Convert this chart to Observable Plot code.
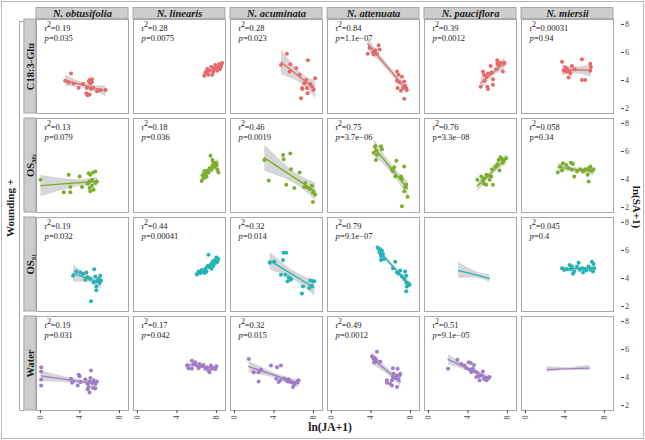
<!DOCTYPE html>
<html><head><meta charset="utf-8">
<script src="https://cdn.jsdelivr.net/npm/d3@7"></script>
<script src="https://cdn.jsdelivr.net/npm/@observablehq/plot@0.6"></script>
<style>html,body{margin:0;padding:0;background:#fff} svg text{font-family:'Liberation Serif','Times New Roman',serif}</style>
</head><body><div id="chart"></div>
<script>
const species = ["N. obtusifolia", "N. linearis", "N. acuminata", "N. attenuata", "N. pauciflora", "N. miersii"];
const treatments = ["C18:3-Glu", "OS_Ms", "OS_Sl", "Water"];
const seriesColors = ["#E6686A", "#7CAE2A", "#22B3B6", "#A07CC6"];
const xTicks = [0, 4, 8];
const yTicks = [2, 4, 6, 8];

// C18:3-Glu  [ln(JA+1), ln(SA+1)]
const glu_obtusifolia = [[3.1,4.5],[2.5,3.98],[2.86,3.87],[3.37,3.79],[3.87,3.47],[4.31,3.75],[4.71,3.47],[4.98,4.04],[5.05,3.79],[5.22,4.09],[5.12,3.4],[5.32,3.47],[4.65,3.09],[4.78,2.95],[4.98,3.0],[5.72,3.23],[6.06,3.33],[6.6,3.33],[5.22,3.87],[4.9,3.94]];
const glu_linearis = [[6.87,4.55],[7.07,4.83],[7.27,4.69],[7.47,4.97],[7.68,4.62],[7.88,5.11],[7.98,4.83],[8.18,4.97],[8.28,5.18],[8.48,5.04],[7.17,4.41],[6.77,4.34],[7.58,4.41],[8.08,4.69],[8.38,4.83],[8.59,5.25],[6.97,4.62],[7.78,4.9]];
const glu_acuminata = [[5.32,5.91],[4.71,5.11],[5.66,5.16],[5.59,4.64],[6.26,4.88],[7.44,5.44],[6.6,4.41],[7.27,4.03],[7.07,3.79],[6.84,3.47],[7.34,3.47],[7.68,3.75],[7.85,3.56],[8.01,3.33],[8.18,4.17],[7.41,3.09],[6.74,2.74],[6.9,3.4]];
const glu_attenuata = [[3.67,5.91],[3.87,6.33],[4.21,5.98],[4.44,6.15],[4.78,6.52],[4.88,6.22],[4.61,5.91],[4.28,5.86],[6.64,4.64],[6.8,4.41],[6.64,3.98],[6.9,3.87],[7.14,4.27],[7.37,3.93],[7.47,3.63],[7.58,3.47],[7.24,3.47],[7.04,3.28],[6.7,3.47],[7.37,2.7],[7.64,3.33]];
const glu_pauciflora = [[5.52,4.64],[5.62,4.41],[5.86,4.27],[6.03,4.5],[6.36,4.57],[6.3,5.04],[6.53,4.1],[6.87,4.81],[6.97,5.2],[7.1,5.11],[7.3,5.27],[7.64,5.2],[7.54,4.64],[6.97,5.44],[7.7,5.27],[5.29,3.56],[5.96,3.56],[6.03,3.4],[6.53,3.7],[5.69,3.98]];
const glu_miersii = [[3.7,5.34],[4.04,4.92],[4.21,4.81],[4.14,4.64],[4.48,4.64],[4.71,5.04],[4.55,4.5],[4.38,4.22],[5.72,5.51],[6.57,5.2],[6.63,4.97],[6.57,4.69],[5.72,4.03],[6.06,4.03],[5.0,4.81],[3.9,4.7]];

// OS Ms
const ms_obtusifolia = [[0,3.98],[2.86,4.34],[3.97,4.22],[2.36,3.09],[3.03,3.09],[3.03,3.47],[4.21,3.47],[4.88,4.45],[5.05,4.34],[5.32,4.5],[5.56,4.57],[5.22,3.98],[4.78,3.7],[4.98,3.4],[5.22,3.56],[5.39,3.28],[5.05,3.16],[5.56,3.75],[5.72,3.86],[4.98,3.86]];
const ms_linearis = [[6.5,3.9],[6.7,4.1],[6.6,4.3],[6.9,4.4],[7.0,4.6],[7.2,4.5],[7.3,4.8],[7.5,4.7],[7.6,5.0],[7.8,4.9],[7.9,5.2],[8.0,5.0],[8.1,4.7],[8.2,4.5],[7.4,5.7],[7.6,5.4],[7.0,4.2],[7.7,5.2],[6.8,4.6]];
const ms_acuminata = [[3.03,5.39],[3.47,3.93],[4.92,5.74],[4.98,5.44],[5.66,5.86],[5.72,4.74],[6.6,4.5],[5.25,3.63],[6.06,3.4],[7.17,3.75],[7.34,3.47],[7.61,3.33],[7.85,3.56],[7.95,3.09],[8.18,2.93],[7.95,2.39],[7.07,3.47]];
const ms_attenuata = [[4.44,6.38],[5.02,6.38],[5.12,6.15],[4.55,6.05],[4.28,5.91],[4.61,5.74],[4.51,5.39],[6.13,4.74],[6.36,4.88],[6.57,5.34],[6.46,4.22],[7.04,4.22],[7.14,4.03],[7.37,4.92],[7.58,3.63],[7.47,3.47],[7.37,3.16],[7.71,2.77],[7.14,2.1],[6.23,4.6]];
const ms_pauciflora = [[4.95,3.98],[5.35,4.22],[5.52,3.93],[5.69,4.1],[5.86,4.34],[6.03,4.27],[6.2,3.98],[6.36,4.22],[5.62,3.7],[5.86,3.63],[6.53,3.63],[6.43,4.74],[6.77,4.92],[6.97,5.11],[7.1,5.39],[7.3,5.58],[7.44,5.44],[7.64,5.39],[7.88,5.51],[7.2,4.64],[7.54,5.2]];
const ms_miersii = [[3.27,4.5],[3.54,4.92],[3.8,5.16],[3.7,4.64],[4.14,5.04],[4.38,4.81],[4.61,5.2],[4.81,5.11],[4.71,4.69],[4.95,4.22],[5.22,4.57],[5.56,4.74],[5.83,4.57],[6.06,4.74],[6.4,4.81],[6.57,4.92],[6.63,4.64],[6.9,4.74],[6.3,4.34],[6.4,3.86]];

// OS Sl
const sl_obtusifolia = [[3.3,4.2],[3.64,4.5],[4.04,4.43],[4.31,4.34],[4.65,4.43],[4.78,4.1],[5.05,3.96],[5.45,4.67],[5.56,4.15],[5.72,3.8],[5.89,3.96],[6.06,4.2],[6.13,3.86],[5.99,3.68],[5.66,3.44],[5.66,3.16],[5.12,2.38],[4.55,3.91],[5.39,3.72]];
const sl_linearis = [[6.0,4.3],[6.2,4.5],[6.4,4.4],[6.5,4.6],[6.7,4.5],[6.9,4.7],[7.0,4.5],[7.1,4.9],[7.3,4.8],[7.4,5.0],[7.5,4.7],[7.6,5.2],[7.7,4.9],[7.8,5.3],[7.9,5.1],[8.0,5.5],[8.1,5.2],[8.2,5.4],[7.2,5.7],[6.8,4.4]];
const sl_acuminata = [[3.57,5.13],[4.04,5.2],[4.98,5.84],[5.25,5.84],[4.92,5.32],[4.71,4.27],[5.15,4.27],[5.49,4.1],[5.66,3.91],[5.38,3.8],[5.76,3.96],[6.94,3.44],[6.84,2.93],[7.68,3.86],[7.95,3.8],[8.08,3.8],[7.85,3.49],[7.61,3.33]];
const sl_attenuata = [[4.68,6.22],[4.95,6.08],[5.12,5.98],[4.88,5.84],[5.02,5.6],[5.22,5.74],[5.02,5.32],[5.28,5.37],[6.46,5.2],[6.23,4.74],[6.64,4.43],[6.8,4.34],[6.97,4.57],[7.14,4.15],[7.47,4.5],[7.58,4.2],[7.37,3.96],[7.58,3.72],[7.81,3.63],[7.91,3.56],[7.64,3.44],[7.58,3.09]];
const sl_pauciflora_fit = [[3.06,4.57,4.0,5.14],[3.8,4.44,4.03,4.85],[4.5,4.31,4.03,4.59],[5.3,4.17,3.97,4.37],[6.2,4.0,3.71,4.29]]; // [x, fit, lower, upper]
const sl_miersii = [[3.7,4.74],[3.94,4.62],[4.21,4.67],[4.48,4.97],[4.61,4.67],[4.81,4.34],[4.95,4.5],[5.22,4.85],[5.39,5.13],[5.49,4.62],[5.72,4.74],[5.83,4.43],[5.96,4.67],[6.16,4.57],[6.4,4.85],[6.57,4.62],[6.73,5.2],[6.9,5.04],[6.97,4.74],[6.84,4.5],[4.71,4.85]];

// Water
const w_obtusifolia = [[0.07,4.74],[0.07,4.43],[0.07,3.86],[0.07,3.44],[3.1,3.91],[3.2,3.63],[3.3,3.72],[3.87,4.2],[3.97,4.1],[4.04,3.68],[3.77,3.44],[4.55,3.86],[4.78,3.56],[4.98,3.72],[5.12,4.5],[5.05,3.96],[5.22,3.63],[5.39,3.8],[5.56,3.56],[5.72,3.72],[5.32,3.26],[5.56,3.21],[4.98,2.93],[4.88,3.33],[4.78,3.16]];
const w_linearis = [[5.02,4.85],[5.18,4.67],[5.52,5.2],[5.69,4.97],[5.86,5.09],[6.03,4.85],[6.3,4.97],[6.53,4.81],[6.7,4.9],[6.87,4.62],[7.04,4.74],[7.2,4.5],[7.3,4.38],[7.54,4.62],[7.71,4.67],[7.44,4.85],[5.52,4.62],[6.2,4.67],[7.9,4.6],[8.0,4.8]];
const w_acuminata = [[1.45,5.32],[1.95,4.38],[2.45,4.38],[2.45,3.72],[2.69,4.57],[3.7,4.85],[4.31,4.74],[4.71,4.85],[4.24,3.91],[4.48,3.68],[4.65,3.8],[5.05,3.91],[5.25,3.8],[5.49,3.86],[5.66,3.68],[5.93,3.63],[6.06,3.49],[6.26,3.63],[6.4,3.72],[6.5,3.8],[5.93,3.33],[5.39,3.72]];
const w_attenuata = [[4.11,5.51],[4.28,5.32],[4.44,5.37],[4.61,5.84],[4.55,5.2],[4.95,5.13],[4.34,5.09],[6.23,4.67],[6.7,4.62],[6.3,4.27],[6.64,4.15],[6.9,4.15],[6.8,3.86],[6.46,3.96],[6.13,3.8],[5.62,3.8],[5.62,3.63],[5.96,3.56],[6.13,3.44],[6.64,3.33],[6.23,4.03],[6.97,4.27]];
const w_pauciflora = [[1.99,4.62],[2.93,5.27],[3.33,4.97],[3.67,4.85],[4.07,5.09],[4.28,5.04],[4.17,4.57],[4.51,4.62],[4.61,4.9],[4.75,4.43],[4.95,4.34],[5.08,4.1],[5.35,4.15],[5.52,4.43],[5.62,3.91],[5.76,3.96],[5.86,3.8],[6.03,3.96],[6.2,4.03],[4.85,4.03],[5.18,3.8],[4.34,4.38],[3.84,4.67]];
const w_miersii_fit = [[2.19,4.57,4.37,4.77],[3.3,4.6,4.47,4.73],[4.35,4.62,4.54,4.70],[5.4,4.65,4.52,4.78],[6.5,4.67,4.47,4.87]]; // [x, fit, lower, upper]

// statistics printed in each panel (null = none)
const r2_glu = ["0.19","0.28","0.28","0.84","0.39","0.00031"];
const p_glu  = ["0.035","0.0075","0.023","1.1e\u221207","0.0012","0.94"];
const r2_ms  = ["0.13","0.18","0.46","0.75","0.76","0.058"];
const p_ms   = ["0.079","0.036","0.0019","3.7e\u221206","3.3e\u221208","0.34"];
const r2_sl  = ["0.19","0.44","0.32","0.79",null,"0.045"];
const p_sl   = ["0.032","0.00041","0.014","9.1e\u221207",null,"0.4"];
const r2_w   = ["0.19","0.17","0.32","0.49","0.51",null];
const p_w    = ["0.031","0.042","0.015","0.0012","9.1e\u221205",null];

// ---- assemble tables ----
const panelPoints = [
  [glu_obtusifolia, glu_linearis, glu_acuminata, glu_attenuata, glu_pauciflora, glu_miersii],
  [ms_obtusifolia, ms_linearis, ms_acuminata, ms_attenuata, ms_pauciflora, ms_miersii],
  [sl_obtusifolia, sl_linearis, sl_acuminata, sl_attenuata, null, sl_miersii],
  [w_obtusifolia, w_linearis, w_acuminata, w_attenuata, w_pauciflora, null]
];
const panelFits = [[2, 4, sl_pauciflora_fit], [3, 5, w_miersii_fit]];
const r2s = [r2_glu, r2_ms, r2_sl, r2_w];
const ps = [p_glu, p_ms, p_sl, p_w];

const points = [];
panelPoints.forEach((row, i) => row.forEach((arr, j) => {
  if (arr) arr.forEach(([x, y]) => points.push({t: treatments[i], s: species[j], x, y}));
}));
const fits = [];
panelFits.forEach(([i, j, arr]) => arr.forEach(([x, y, lo, hi]) => fits.push({t: treatments[i], s: species[j], x, y, lo, hi})));
const stats = [];
r2s.forEach((row, i) => row.forEach((r, j) => {
  if (r != null) stats.push({t: treatments[i], s: species[j], r2: r, p: ps[i][j], upright: i === 1 && j >= 4});
}));

const xDom = [-0.4, 8.92];
const yDom = [1.65, 8.35];
const stripH = 0.82;   // in y units
const stripW = 1.22;   // in x units
const txt = "#1a1a1a";
const serif = "'Liberation Serif', 'Times New Roman', serif";
const statOpts = {fx: "s", fy: "t", frameAnchor: "top-left", lineAnchor: "middle", textAnchor: "start", fontSize: 8.5, fill: txt, fontFamily: serif};

const chart = Plot.plot({
  width: 645, height: 440,
  marginLeft: 36, marginRight: 32, marginTop: 18, marginBottom: 29,
  style: {fontFamily: serif, fontSize: "9px", background: "#fff", color: txt},
  fx: {domain: species, paddingInner: 0.052, paddingOuter: 0, axis: null, label: null},
  fy: {domain: treatments, paddingInner: 0.05, paddingOuter: 0, axis: null, label: null},
  x: {domain: xDom, label: null},
  y: {domain: yDom, label: null},
  color: {domain: treatments, range: seriesColors},
  marks: [
    Plot.frame({stroke: "#a8a8a8", strokeWidth: 1}),
    // column strips
    Plot.rect(species, {fx: d => d, fy: () => treatments[0], x1: () => xDom[0], x2: () => xDom[1], y1: () => yDom[1] + 0.03, y2: () => yDom[1] + stripH, fill: "#cdcdcd", stroke: "#a8a8a8"}),
    Plot.text(species, {fx: d => d, fy: () => treatments[0], x: () => (xDom[0] + xDom[1]) / 2, y: () => yDom[1] + stripH / 2 + 0.02, text: d => d, fontWeight: "bold", fontStyle: "italic", fontSize: 10.5, fill: txt, fontFamily: serif}),
    // row strips
    Plot.rect(treatments, {fy: d => d, fx: () => species[0], x1: () => xDom[0] - stripW, x2: () => xDom[0] - 0.03, y1: () => yDom[0], y2: () => yDom[1], fill: "#cdcdcd", stroke: "#a8a8a8"}),
    Plot.text(treatments, {fy: d => d, fx: () => species[0], x: () => xDom[0] - stripW / 2, y: () => (yDom[0] + yDom[1]) / 2, text: d => d, rotate: -90, fontWeight: "bold", fontSize: 10.5, fill: txt, fontFamily: serif}),
    // regression bands for panels with only a fit
    Plot.areaY(fits, {fx: "s", fy: "t", x: "x", y1: "lo", y2: "hi", fill: "#999", fillOpacity: 0.4, curve: "natural"}),
    Plot.line(fits, {fx: "s", fy: "t", x: "x", y: "y", stroke: "t", strokeWidth: 1.3}),
    // points and regressions
    Plot.linearRegressionY(points, {fx: "s", fy: "t", x: "x", y: "y", stroke: "t", fill: "#999", fillOpacity: 0.4, strokeWidth: 1.3, ci: 0.95}),
    Plot.dot(points, {fx: "s", fy: "t", x: "x", y: "y", fill: "t", r: 2}),
    // stats text
    Plot.text(stats, {...statOpts, dx: 8, dy: 8.5, text: () => "r"}),
    Plot.text(stats, {...statOpts, dx: 10.6, dy: 5.3, text: () => "2", fontSize: 8}),
    Plot.text(stats, {...statOpts, dx: 14.3, dy: 8.5, text: d => "=" + d.r2}),
    Plot.text(stats.filter(d => !d.upright), {...statOpts, dx: 8, dy: 18.5, text: () => "p", fontStyle: "italic"}),
    Plot.text(stats.filter(d => d.upright), {...statOpts, dx: 8, dy: 18.5, text: () => "p"}),
    Plot.text(stats, {...statOpts, dx: 12.4, dy: 18.5, text: d => "=" + d.p}),
    // axes
    Plot.axisX({anchor: "bottom", ticks: xTicks, tickFormat: d => String(d), tickSize: 3, tickPadding: 2, tickRotate: -90, fontSize: 8, stroke: "#444", fill: "#444", label: null}),
    Plot.axisY({anchor: "right", ticks: yTicks, tickFormat: d => String(d), tickSize: 3, tickPadding: 1.5, dx: 7, fontSize: 8, stroke: "#444", fill: "#444", label: null})
  ]
});

document.getElementById("chart").appendChild(chart);

// subscripts in row labels
d3.select(chart).selectAll("text").each(function () {
  const t = this.textContent;
  if (t.startsWith("OS_")) {
    const sub = t.slice(3);
    const el = d3.select(this);
    el.text(null);
    el.append("tspan").text("OS");
    el.append("tspan").attr("font-size", 7).attr("dy", "0.35em").attr("font-style", "italic").text(sub);
  }
});

// outer labels and decorations
const svg = d3.select(chart);
svg.append("rect").attr("x", 1.5).attr("y", 1.5).attr("width", 642).attr("height", 437)
  .attr("fill", "none").attr("stroke", "#b8b8b8");
svg.append("path").attr("d", "M24,21.5H19.5V410.5H24").attr("fill", "none").attr("stroke", "#a8a8a8");
svg.append("text").attr("transform", "translate(11,208) rotate(-90)").attr("text-anchor", "middle")
  .attr("dominant-baseline", "middle").attr("font-weight", "bold").attr("font-size", 11).attr("fill", txt).text("Wounding +");
svg.append("text").attr("transform", "translate(636,207) rotate(90)").attr("text-anchor", "middle")
  .attr("dominant-baseline", "middle").attr("font-weight", "bold").attr("font-size", 11).attr("fill", txt).text("ln(SA+1)");
svg.append("text").attr("x", 330).attr("y", 431).attr("text-anchor", "middle")
  .attr("font-weight", "bold").attr("font-size", 11.5).attr("fill", txt).text("ln(JA+1)");
</script></body></html>
